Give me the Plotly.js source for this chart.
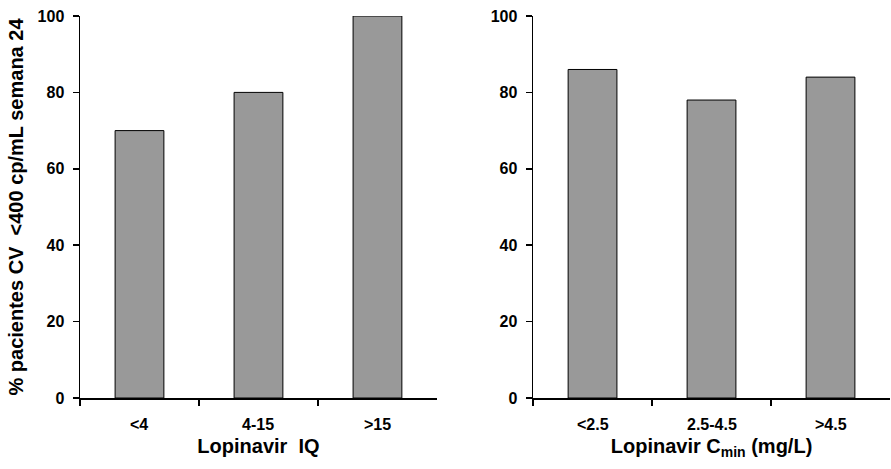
<!DOCTYPE html>
<html>
<head>
<meta charset="utf-8">
<script src="https://cdn.plot.ly/plotly-3.0.1.min.js"></script>
<style>html,body{margin:0;padding:0;background:#fff;}#chart{width:891px;height:469px;}</style>
</head>
<body>
<div id="chart"></div>
<script>
// Data
const iqCategories = ['<4', '4-15', '>15'];
const iqValues = [70, 80, 100];
const cminCategories = ['<2.5', '2.5-4.5', '>4.5'];
const cminValues = [86, 78, 84];
const yTickVals = [0, 20, 40, 60, 80, 100];

const FONT = 'Liberation Sans, Arial, sans-serif';
const barStyle = {color: '#999999', line: {color: '#000000', width: 1}};

const traces = [
  {type: 'bar', x: iqCategories, y: iqValues, xaxis: 'x', yaxis: 'y', marker: barStyle, hoverinfo: 'y'},
  {type: 'bar', x: cminCategories, y: cminValues, xaxis: 'x2', yaxis: 'y2', marker: barStyle, hoverinfo: 'y'}
];

const tickFont = {family: FONT, size: 16, color: '#000', weight: 'bold'};
const xCommon = {
  type: 'category', range: [-0.5, 2.5], showline: true, linecolor: '#000', linewidth: 1.5,
  ticks: 'outside', tickson: 'boundaries', ticklen: 6, tickwidth: 1.5, tickcolor: '#000',
  showticklabels: false,
  showgrid: false, zeroline: false, fixedrange: true
};
const yCommon = {
  range: [0, 100], tickmode: 'array', tickvals: yTickVals,
  showline: true, linecolor: '#000', linewidth: 1.5,
  ticks: 'outside', ticklen: 6, tickwidth: 1.5, tickcolor: '#000',
  ticklabelstandoff: 5,
  showgrid: false, zeroline: false, fixedrange: true,
  tickfont: tickFont
};
const titleFont = {family: FONT, size: 20, color: '#000', weight: 'bold'};

// Bold category labels placed through the category axes
function catLabels(cats, xref, yref) {
  return cats.map(c => ({
    x: c, y: 0, xref: xref, yref: yref, text: c.replace(/</g, '&lt;').replace(/>/g, '&gt;'),
    showarrow: false, xanchor: 'center', yanchor: 'middle', yshift: -26, font: tickFont
  }));
}

const layout = {
  width: 891, height: 469,
  font: {family: FONT, color: '#000'},
  margin: {l: 80, r: 1, t: 16, b: 71},
  paper_bgcolor: '#fff', plot_bgcolor: '#fff',
  showlegend: false, bargap: 0.59,
  xaxis: Object.assign({}, xCommon, {domain: [0, 0.4407], anchor: 'y',
    title: {text: 'Lopinavir\u00a0\u00a0IQ', standoff: 40, font: titleFont}}),
  yaxis: Object.assign({}, yCommon, {domain: [0, 1], anchor: 'x',
    title: {text: '% pacientes CV\u00a0\u00a0<400 cp/mL semana 24', standoff: 8, font: titleFont}}),
  xaxis2: Object.assign({}, xCommon, {domain: [0.5593, 1], anchor: 'y2',
    title: {text: 'Lopinavir C<sub>min</sub> (mg/L)', standoff: 40, font: titleFont}}),
  yaxis2: Object.assign({}, yCommon, {domain: [0, 1], anchor: 'x2'}),
  annotations: catLabels(iqCategories, 'x', 'y').concat(catLabels(cminCategories, 'x2', 'y2'))
};

Plotly.newPlot('chart', traces, layout, {displayModeBar: false, staticPlot: true});
</script>
</body>
</html>
